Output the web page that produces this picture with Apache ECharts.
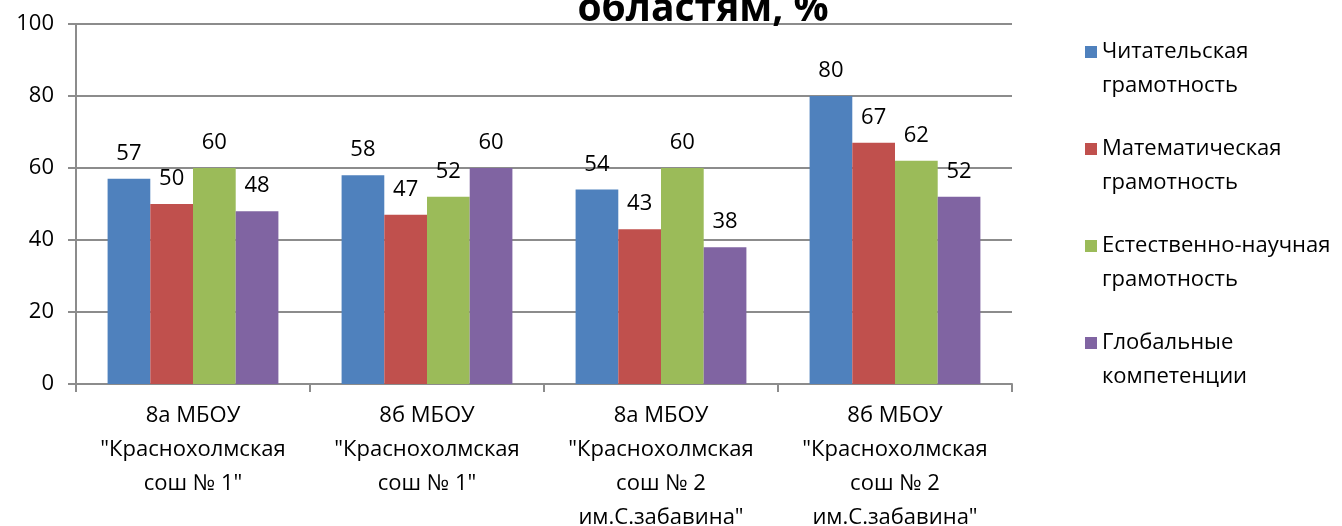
<!DOCTYPE html>
<html>
<head>
<meta charset="utf-8">
<script src="https://cdn.jsdelivr.net/npm/echarts@6/dist/echarts.min.js"></script>
<style>
  html, body { margin: 0; padding: 0; background: #fff; }
  #chart { width: 1342px; height: 526px; }
</style>
</head>
<body>
<div id="chart"></div>
<script>
const categories = [
  '8а МБОУ\n"Краснохолмская\nсош № 1"',
  '8б МБОУ\n"Краснохолмская\nсош № 1"',
  '8а МБОУ\n"Краснохолмская\nсош № 2\nим.С.забавина"',
  '8б МБОУ\n"Краснохолмская\nсош № 2\nим.С.забавина"'
];
const seriesNames = [
  'Читательская\nграмотность',
  'Математическая\nграмотность',
  'Естественно-научная\nграмотность',
  'Глобальные\nкомпетенции'
];
const reading = [57, 58, 54, 80];
const maths = [50, 47, 43, 67];
const science = [60, 52, 60, 62];
const global = [48, 60, 38, 52];
const colors = ['#4F81BD', '#C0504D', '#9BBB59', '#8064A2'];

const FONT = '"Open Sans", "DejaVu Sans", sans-serif';

const chart = echarts.init(document.getElementById('chart'));

const makeSeries = (name, data, color) => ({
  name: name,
  type: 'bar',
  data: data,
  barGap: '0%',
  barCategoryGap: '27%',
  itemStyle: { color: color },
  label: {
    show: true,
    position: 'top',
    distance: 14,
    color: '#000',
    fontSize: 22,
    fontFamily: FONT
  }
});

chart.setOption({
  animation: false,
  backgroundColor: '#fff',
  graphic: [{
    type: 'text',
    z: 100,
    style: {
      text: 'областям, %',
      x: 703,
      y: -10,
      textAlign: 'center',
      textVerticalAlign: 'top',
      font: 'bold 39px ' + FONT,
      fill: '#000'
    }
  }],
  legend: {
    orient: 'vertical',
    left: 1085,
    top: 1,
    padding: 0,
    itemGap: -5,
    itemWidth: 12,
    itemHeight: 12,
    icon: 'rect',
    data: seriesNames,
    formatter: name => '\n' + name,
    textStyle: {
      fontSize: 22,
      fontFamily: FONT,
      color: '#000',
      lineHeight: 34
    }
  },
  grid: {
    left: 76,
    right: 330,
    top: 24,
    bottom: 142,
    containLabel: false,
    outerBoundsMode: 'none'
  },
  xAxis: {
    type: 'category',
    data: categories,
    axisLine: { lineStyle: { color: '#8c8c8c', width: 2 } },
    axisTick: { show: true, length: 8, lineStyle: { color: '#8c8c8c', width: 2 } },
    axisLabel: {
      interval: 0,
      margin: 15,
      color: '#000',
      fontSize: 22,
      lineHeight: 34,
      fontFamily: FONT
    }
  },
  yAxis: {
    type: 'value',
    min: 0,
    max: 100,
    interval: 20,
    axisLine: { show: true, lineStyle: { color: '#8c8c8c', width: 2 } },
    axisTick: { show: true, length: 8, lineStyle: { color: '#8c8c8c', width: 2 } },
    axisLabel: {
      margin: 22,
      color: '#000',
      fontSize: 22,
      fontFamily: FONT
    },
    splitLine: { lineStyle: { color: '#8c8c8c', width: 2 } }
  },
  series: [
    makeSeries(seriesNames[0], reading, colors[0]),
    makeSeries(seriesNames[1], maths, colors[1]),
    makeSeries(seriesNames[2], science, colors[2]),
    makeSeries(seriesNames[3], global, colors[3])
  ]
});
</script>
</body>
</html>
